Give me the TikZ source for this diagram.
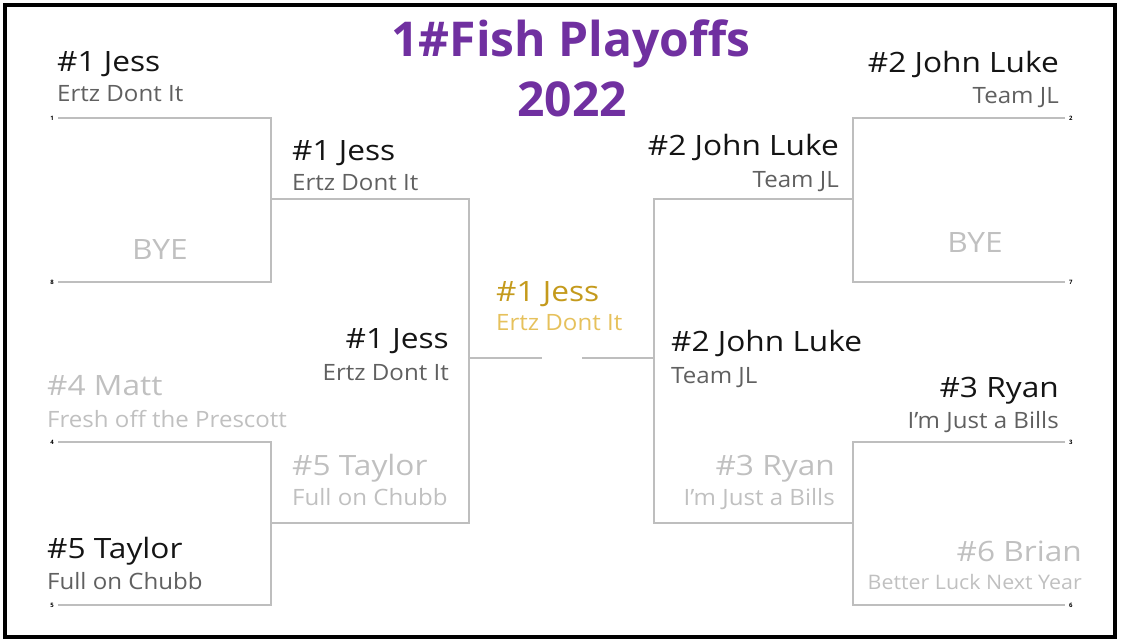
\documentclass[tikz,border=0pt]{standalone}
\usepackage{fontspec}
\setmainfont{Open Sans}
\newfontfamily\namefont[FakeStretch=1.13]{Open Sans}
\newfontfamily\subfont[FakeStretch=1.07]{Open Sans}
\usepackage{tikz}
\usetikzlibrary{positioning}
\definecolor{fishpurple}{HTML}{7030A0}
\definecolor{wingold}{HTML}{C49A1C}
\definecolor{wingoldlt}{HTML}{E6C15C}
\definecolor{subgrey}{HTML}{606060}
\definecolor{outgrey}{HTML}{C0C0C0}
\definecolor{linegrey}{HTML}{BEBEBE}

\begin{document}
\begin{tikzpicture}[x=1pt, y=-1pt,
  nm/.style={font=\namefont\fontsize{28}{30}\selectfont, inner sep=0pt, text=black!92},
  sub/.style={font=\subfont\fontsize{22.5}{24}\selectfont, inner sep=0pt, text=subgrey},
  gone/.style={text=outgrey},
  seed/.style={font=\fontsize{6}{6}\selectfont\bfseries, inner sep=0pt},
  br/.style={draw=linegrey, line width=2pt},
  ttl/.style={font=\fontsize{48}{50}\selectfont\bfseries, inner sep=0pt, text=fishpurple}]
\useasboundingbox (0,0) rectangle (1122,642);
\draw[line width=4pt] (5,5) rectangle (1115,637);
\node[ttl, anchor=base] (title) at (571,57) {1\#Fish Playoffs};
\node[ttl, anchor=base] (year) at (572,117) {2022};

\coordinate (s1) at (58,118);   \coordinate (s8) at (58,282);
\coordinate (s4) at (58,442);   \coordinate (s5) at (58,605);
\coordinate (s2) at (1065,118); \coordinate (s7) at (1065,282);
\coordinate (s3) at (1065,442); \coordinate (s6) at (1065,605);
\coordinate (la) at (469,199);  \coordinate (lb) at (469,523);
\coordinate (ra) at (654,199);  \coordinate (rb) at (654,523);
\coordinate (lc) at (542,358);  \coordinate (rc) at (582,358);

\node[seed, left=4pt of s1] (n1) {1};
\node[seed, left=4pt of s8] (n8) {8};
\node[seed, left=4pt of s4] (n4) {4};
\node[seed, left=4pt of s5] (n5) {5};
\node[seed, right=4pt of s2] (n2) {2};
\node[seed, right=4pt of s7] (n7) {7};
\node[seed, right=4pt of s3] (n3) {3};
\node[seed, right=4pt of s6] (n6) {6};

\draw[br] (s1) -| (271,282) -- (s8);
\draw[br] (s4) -| (271,605) -- (s5);
\draw[br] (271,199) -- (la) -- (lb) -- (271,523);
\draw[br] (469,358) -- (lc);
\draw[br] (s2) -| (853,282) -- (s7);
\draw[br] (s3) -| (853,605) -- (s6);
\draw[br] (853,199) -- (ra) -- (rb) -- (853,523);
\draw[br] (654,358) -- (rc);

\node[nm, anchor=base west] (jess1) at (57,72) {\#1 Jess};
\node[sub, anchor=base west] (jess1t) at (57,102) {Ertz Dont It};
\node[nm, gone, anchor=base] (bye1) at (160,259) {BYE};
\node[nm, gone, anchor=base west] (matt) at (47,395) {\#4 Matt};
\node[sub, gone, anchor=base west] (mattt) at (47,427) {Fresh off the Prescott};
\node[nm, anchor=base west] (taylor1) at (47,558) {\#5 Taylor};
\node[sub, anchor=base west] (taylor1t) at (47,589) {Full on Chubb};

\node[nm, anchor=base west] (jess2) at (292,160) {\#1 Jess};
\node[sub, anchor=base west] (jess2t) at (292,190) {Ertz Dont It};
\node[nm, gone, anchor=base west] (taylor2) at (292,475) {\#5 Taylor};
\node[sub, gone, anchor=base west] (taylor2t) at (292,505) {Full on Chubb};
\node[nm, anchor=base east] (jess3) at (449,348) {\#1 Jess};
\node[sub, anchor=base east] (jess3t) at (449,380) {Ertz Dont It};

\node[nm, text=wingold, anchor=base west] (champ) at (496,301) {\#1 Jess};
\node[sub, text=wingoldlt, anchor=base west] (champt) at (496,330) {Ertz Dont It};

\node[nm, anchor=base east] (jl2) at (839,155) {\#2 John Luke};
\node[sub, anchor=base east] (jl2t) at (839,187) {Team JL};
\node[nm, anchor=base west] (jl3) at (671,351) {\#2 John Luke};
\node[sub, anchor=base west] (jl3t) at (671,383) {Team JL};
\node[nm, gone, anchor=base east] (ryan2) at (835,475) {\#3 Ryan};
\node[sub, gone, anchor=base east] (ryan2t) at (835,505) {I’m Just a Bills};

\node[nm, anchor=base east] (jl1) at (1059,73) {\#2 John Luke};
\node[sub, anchor=base east] (jl1t) at (1059,103) {Team JL};
\node[nm, gone, anchor=base] (bye2) at (975,252) {BYE};
\node[nm, anchor=base east] (ryan1) at (1059,397) {\#3 Ryan};
\node[sub, anchor=base east] (ryan1t) at (1059,428) {I’m Just a Bills};
\node[nm, gone, anchor=base east] (brian) at (1082,561) {\#6 Brian};
\node[sub, gone, anchor=base east, font=\subfont\fontsize{20}{22}\selectfont] (briant) at (1082,589) {Better Luck Next Year};
\end{tikzpicture}
\end{document}
